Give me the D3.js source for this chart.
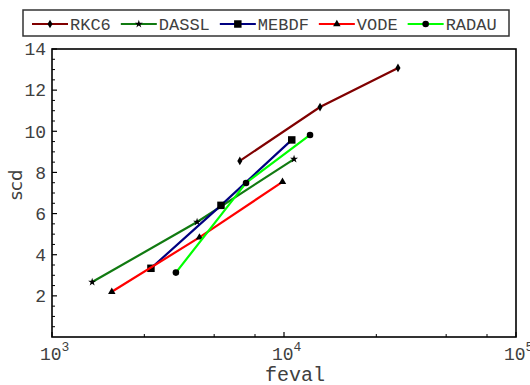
<!DOCTYPE html>
<html>
<head>
<meta charset="utf-8">
<script src="https://cdn.jsdelivr.net/npm/d3@7"></script>
<style>
  body { margin: 0; background: #fff; }
  svg { display: block; }
</style>
</head>
<body>
<div id="chart"></div>
<script>
// solver names and feval / scd pairs
var solvers = ["RKC6", "DASSL", "MEBDF", "VODE", "RADAU"];
var colors = ["#800000", "#117a11", "#000080", "#ff0000", "#00ff00"];
var symbols = ["diamond", "star", "square", "triangle", "circle"];

var rkc6Feval = [6450, 14300, 31000];
var rkc6Scd = [8.56, 11.18, 13.08];
var dasslFeval = [1490, 4220, 11050];
var dasslScd = [2.67, 5.59, 8.65];
var mebdfFeval = [2670, 5350, 10800];
var mebdfScd = [3.34, 6.40, 9.58];
var vodeFeval = [1810, 4320, 9850];
var vodeScd = [2.20, 4.84, 7.54];
var radauFeval = [3420, 6860, 12950];
var radauScd = [3.13, 7.49, 9.82];

var xTicks = [1e3, 1e4, 1e5];
var xMinor = [2500, 5000, 7500, 25000, 50000, 75000];
var yTicks = [2, 4, 6, 8, 10, 12, 14];

var fevals = [rkc6Feval, dasslFeval, mebdfFeval, vodeFeval, radauFeval];
var scds = [rkc6Scd, dasslScd, mebdfScd, vodeScd, radauScd];

var width = 530,
    height = 385;
var margin = {top: 49, right: 14, bottom: 48, left: 52};

var svg = d3.select("#chart").append("svg")
    .attr("width", width)
    .attr("height", height);

var x = d3.scaleLog()
    .domain([1e3, 1e5])
    .range([margin.left, width - margin.right]);
var y = d3.scaleLinear()
    .domain([0, 14])
    .range([height - margin.bottom, margin.top]);

var tickFont = "'Courier New', 'Liberation Mono', monospace";
var textColor = "#404040";

// minor y ticks every 0.5
var yMinor = d3.range(0.5, 14, 0.5).filter(function (v) { return v % 2 != 0; });

var g = svg.append("g");

g.selectAll(".ymin")
    .data(yMinor)
    .enter().append("line")
    .attr("x1", x(1e3)).attr("x2", x(1e3) + 3)
    .attr("y1", function (d) { return y(d); })
    .attr("y2", function (d) { return y(d); })
    .attr("stroke", "#000").attr("stroke-width", 1);

g.selectAll(".ymaj")
    .data(yTicks)
    .enter().append("line")
    .attr("x1", x(1e3)).attr("x2", x(1e3) + 5)
    .attr("y1", function (d) { return y(d); })
    .attr("y2", function (d) { return y(d); })
    .attr("stroke", "#000").attr("stroke-width", 1.2);

g.selectAll(".ylab")
    .data(yTicks)
    .enter().append("text")
    .attr("x", x(1e3) - 6)
    .attr("y", function (d) { return y(d); })
    .attr("dy", "0.35em")
    .attr("text-anchor", "end")
    .attr("font-family", tickFont)
    .attr("font-size", 18)
    .attr("fill", textColor)
    .text(function (d) { return d; });

g.selectAll(".xmin")
    .data(xMinor)
    .enter().append("line")
    .attr("x1", function (d) { return x(d); })
    .attr("x2", function (d) { return x(d); })
    .attr("y1", y(0)).attr("y2", y(0) - 3)
    .attr("stroke", "#000").attr("stroke-width", 1);

g.selectAll(".xmaj")
    .data(xTicks)
    .enter().append("line")
    .attr("x1", function (d) { return x(d); })
    .attr("x2", function (d) { return x(d); })
    .attr("y1", y(0)).attr("y2", y(0) - 5)
    .attr("stroke", "#000").attr("stroke-width", 1.2);

var xl = g.selectAll(".xlab")
    .data(xTicks)
    .enter().append("text")
    .attr("x", function (d) { return x(d) - 12; })
    .attr("y", y(0) + 23)
    .attr("font-family", tickFont)
    .attr("font-size", 18)
    .attr("fill", textColor);
xl.append("tspan").text("10");
xl.append("tspan")
    .attr("dy", -9)
    .attr("font-size", 13)
    .text(function (d) { return Math.round(Math.log10(d)); });

// frame
g.append("rect")
    .attr("x", x(1e3)).attr("y", y(14))
    .attr("width", x(1e5) - x(1e3))
    .attr("height", y(0) - y(14))
    .attr("fill", "none")
    .attr("stroke", "#000")
    .attr("stroke-width", 1.6);

// axis titles
svg.append("text")
    .attr("x", 295).attr("y", 381)
    .attr("text-anchor", "middle")
    .attr("font-family", tickFont)
    .attr("font-size", 20)
    .attr("fill", textColor)
    .text("feval");

svg.append("text")
    .attr("transform", "translate(22,185) rotate(-90)")
    .attr("text-anchor", "middle")
    .attr("font-family", "'DejaVu Sans', sans-serif")
    .attr("font-size", 18)
    .attr("fill", textColor)
    .text("scd");

function symbolFor(name, size) {
    var types = {
        diamond: d3.symbolDiamond,
        star: d3.symbolStar,
        square: d3.symbolSquare,
        triangle: d3.symbolTriangle,
        circle: d3.symbolCircle
    };
    return d3.symbol().type(types[name]).size(size)();
}
var symSize = {diamond: 22, star: 20, square: 56, triangle: 24, circle: 34};

var line = d3.line()
    .x(function (d) { return x(d[0]); })
    .y(function (d) { return y(d[1]); });

var series = solvers.map(function (s, i) {
    return {
        name: s,
        color: colors[i],
        sym: symbols[i],
        pts: fevals[i].map(function (f, j) { return [f, scds[i][j]]; })
    };
});

var sg = svg.selectAll(".series")
    .data(series)
    .enter().append("g")
    .attr("class", "series");

sg.append("path")
    .attr("d", function (d) { return line(d.pts); })
    .attr("fill", "none")
    .attr("stroke", function (d) { return d.color; })
    .attr("stroke-width", 2.2);

sg.selectAll(".pt")
    .data(function (d) { return d.pts.map(function (p) { return {p: p, sym: d.sym}; }); })
    .enter().append("path")
    .attr("transform", function (d) { return "translate(" + x(d.p[0]) + "," + y(d.p[1]) + ")"; })
    .attr("d", function (d) { return symbolFor(d.sym, symSize[d.sym]); })
    .attr("fill", "#000");

// legend
var leg = svg.append("g");
leg.append("rect")
    .attr("x", 23).attr("y", 10)
    .attr("width", 486).attr("height", 26)
    .attr("fill", "#fff")
    .attr("stroke", "#333")
    .attr("stroke-width", 1.5);

var lx = 32, ly = 24;
series.forEach(function (s) {
    leg.append("line")
        .attr("x1", lx).attr("x2", lx + 36)
        .attr("y1", ly).attr("y2", ly)
        .attr("stroke", s.color)
        .attr("stroke-width", 2.2);
    leg.append("path")
        .attr("transform", "translate(" + (lx + 18) + "," + ly + ")")
        .attr("d", symbolFor(s.sym, symSize[s.sym]))
        .attr("fill", "#000");
    var t = leg.append("text")
        .attr("x", lx + 38)
        .attr("y", ly + 6)
        .attr("font-family", tickFont)
        .attr("font-size", 17)
        .attr("fill", textColor)
        .text(s.name);
    lx += 38 + t.node().getComputedTextLength() + 10;
});
</script>
</body>
</html>
